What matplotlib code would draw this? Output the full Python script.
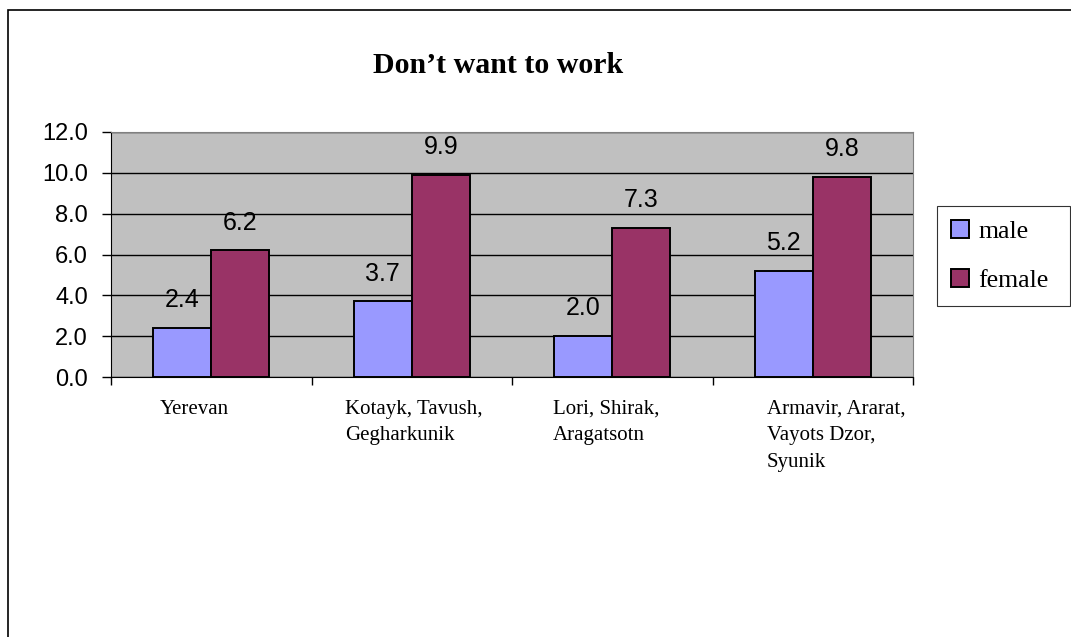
import numpy as np
import matplotlib.pyplot as plt
from matplotlib.patches import Rectangle

regions = ["Yerevan", "Kotayk, Tavush,\nGegharkunik", "Lori, Shirak,\nAragatsotn",
           "Armavir, Ararat,\nVayots Dzor,\nSyunik"]
male = [2.4, 3.7, 2.0, 5.2]
female = [6.2, 9.9, 7.3, 9.8]
yticks = [0, 2, 4, 6, 8, 10, 12]

W, H = 1071, 637
fig = plt.figure(figsize=(W / 100, H / 100), dpi=100)
# outer chart frame (runs off the right and bottom edge)
fig.patches.append(Rectangle((7.5 / W, -0.1), 1.2, 1 - 10 / H + 0.1,
                             transform=fig.transFigure, fill=False,
                             edgecolor='black', linewidth=1.2))

# plot area: x 111..913, y 132..377 px
ax = fig.add_axes([111 / W, (H - 377) / H, 802 / W, 245 / H])
ax.set_facecolor('#C0C0C0')

x = np.arange(len(regions))
w = 0.29
ax.bar(x - w / 2, male, w, color='#9999FF', edgecolor='black', linewidth=1.4,
       label='male', zorder=3)
ax.bar(x + w / 2, female, w, color='#993366', edgecolor='black', linewidth=1.4,
       label='female', zorder=3)

for xs, vals in ((x - w / 2, male), (x + w / 2, female)):
    for xi, v in zip(xs, vals):
        ax.annotate("%.1f" % v, (xi, v), xytext=(0, 15), textcoords='offset points',
                    ha='center', va='baseline', fontsize=18, family='Liberation Sans')

ax.set_xlim(-0.5, 3.5)
ax.set_ylim(0, 12)
ax.set_yticks(yticks)
ax.set_yticklabels(["%.1f" % t for t in yticks], fontsize=17, family='Liberation Sans')
ax.yaxis.grid(True, color='black', linewidth=1.0, zorder=1)
ax.set_axisbelow(True)
ax.tick_params(axis='y', direction='out', length=6.5, width=1, pad=10)

ax.set_xticks(np.arange(-0.5, 4.0, 1.0))
ax.set_xticklabels([])
ax.tick_params(axis='x', direction='out', length=6, width=1)

# category names, left-aligned under each group
name_left = [160, 345, 553, 767]
for name, px in zip(regions, name_left):
    fig.text(px / W, 1 - 400 / H, name, ha='left', va='top', fontsize=15,
             family='Liberation Serif', linespacing=1.52)

for s in ['top', 'right']:
    ax.spines[s].set_color('#808080')
for s in ['left', 'bottom']:
    ax.spines[s].set_color('black')

fig.text(498 / W, 1 - 73 / H, "Don\u2019t want to work", ha='center', va='baseline',
         fontsize=21.5, fontweight='bold', family='Liberation Serif')

leg = ax.legend(loc='upper left', bbox_to_anchor=(937 / W, 1 - 301 / H, 133 / W, 95 / H),
                bbox_transform=fig.transFigure, mode='expand',
                prop={'family': 'Liberation Serif', 'size': 18.5},
                frameon=True, fancybox=False, edgecolor='black', handlelength=0.7,
                handleheight=0.7, handletextpad=0.35, labelspacing=1.0,
                borderpad=0.55, borderaxespad=0)
leg.get_frame().set_linewidth(0.8)
for p in leg.get_patches():
    p.set_linewidth(1.4)

fig.savefig("out.png", dpi=100)
